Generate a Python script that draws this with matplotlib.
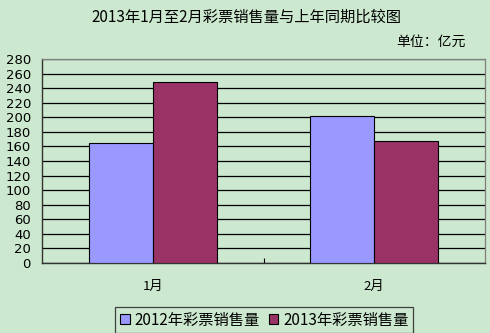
import matplotlib
matplotlib.use("Agg")
import matplotlib.pyplot as plt
import numpy as np
from matplotlib.patches import Patch

plt.rcParams['font.family'] = ['Noto Sans CJK SC', 'DejaVu Sans']

categories = ['1月', '2月']
series_names = ['2012年彩票销售量', '2013年彩票销售量']
sales_2012 = [165, 202]
sales_2013 = [249, 168]
yticks = list(range(0, 281, 20))

bg = '#CCE8CF'
colors = ['#9999FF', '#993366']

W, H = 490, 333
fig = plt.figure(figsize=(W/100, H/100), dpi=100, facecolor=bg)
ax = fig.add_axes([42/W, 1-263/H, (485-42)/W, (263-59)/H], facecolor=bg)

x = np.arange(len(categories))
bw = 0.288
ax.bar(x - bw/2, sales_2012, width=bw, color=colors[0], edgecolor='black', linewidth=0.8, zorder=3)
ax.bar(x + bw/2, sales_2013, width=bw, color=colors[1], edgecolor='black', linewidth=0.8, zorder=3)

ax.set_xlim(-0.5, 1.5)
ax.set_ylim(0, 280)
ax.set_yticks(yticks)
ax.set_yticklabels([str(v) for v in yticks], fontsize=9.5, family=['DejaVu Sans'])
ax.tick_params(axis='y', length=0, pad=8)
ax.yaxis.grid(True, color='black', linewidth=0.9, zorder=1)
ax.set_axisbelow(True)

ax.set_xticks(x)
ax.set_xticklabels(categories, fontsize=9.5)
ax.tick_params(axis='x', which='major', length=0, pad=12)
ax.set_xticks([0.5], minor=True)
ax.tick_params(axis='x', which='minor', direction='in', length=3.5, width=0.8, color='black')

for s in ['top', 'right']:
    ax.spines[s].set_color('#808080')
    ax.spines[s].set_linewidth(0.9)
for s in ['left', 'bottom']:
    ax.spines[s].set_color('#333333')
    ax.spines[s].set_linewidth(1.0)

fig.text(246/W, 1-17/H, '2013年1月至2月彩票销售量与上年同期比较图', ha='center', va='center', fontsize=11)
fig.text(466/W, 1-42/H, '单位：亿元', ha='right', va='center', fontsize=10)

handles = [Patch(facecolor=c, edgecolor='black', linewidth=0.8) for c in colors]
leg = fig.legend(handles, series_names, loc='upper left',
                 bbox_to_anchor=(115/W, 1-307/H), fontsize=11, frameon=True,
                 fancybox=False, edgecolor='#404040', facecolor=bg, framealpha=1,
                 ncol=2, handlelength=0.65, handleheight=0.65, handletextpad=0.3,
                 columnspacing=0.6, borderpad=0.3, borderaxespad=0)
leg.get_frame().set_linewidth(0.9)

fig.savefig('out.png', dpi=100, facecolor=bg)
